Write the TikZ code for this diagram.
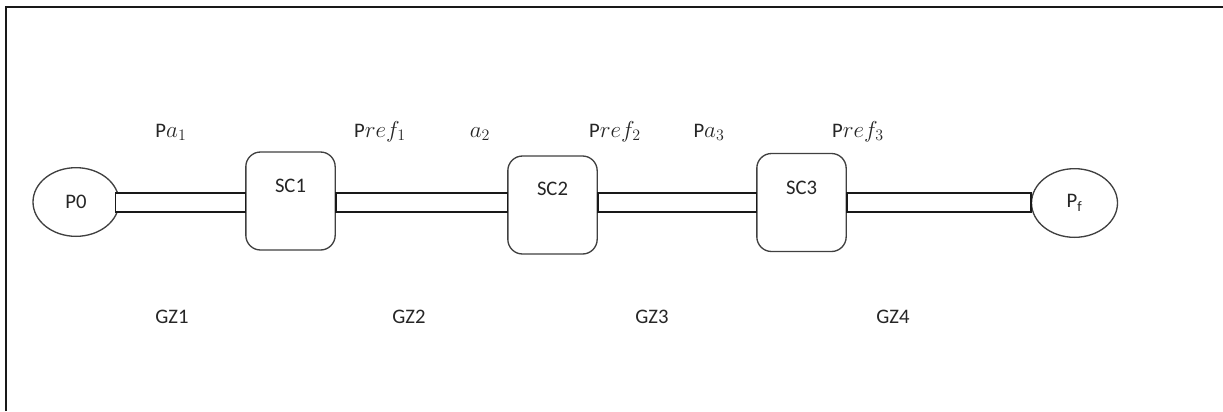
\documentclass[tikz,border=0pt]{standalone}
\usepackage{fontspec}
\setmainfont{Carlito}
\usetikzlibrary{shapes.geometric}
\newcommand{\mth}[1]{{\fontsize{17.5}{20}\selectfont$#1$}}
\begin{document}
\begin{tikzpicture}[x=0.75pt,y=-0.75pt,
  txt/.style={font=\fontsize{15.5}{18}\selectfont, text=black!85, inner sep=0pt},
  frame/.style={draw=black!90, line width=1.6pt},
  port/.style={ellipse, draw=black!75, line width=1pt, fill=white,
    minimum width=64.5pt, minimum height=51.5pt, inner sep=0pt, txt},
  station/.style={rectangle, rounded corners=11pt, draw=black!75, line width=1pt,
    fill=white, minimum width=67pt, minimum height=73.5pt, inner sep=0pt},
  tube/.style={draw=black!90, line width=1pt, fill=white},
  tag/.style={txt, anchor=base}]
\useasboundingbox (0,0) rectangle (1223,411);

% outer frame (top and left edges)
\draw[frame] (6,411) -- (6,7) -- (1223,7);

% end points and stations
\node[port] (p0) at (76,202) {P0};
\node[station] (sc1) at (290.5,201) {};
\node[station] (sc2) at (552.5,205) {};
\node[station] (sc3) at (801.5,202.5) {};
\node[port] (pf) at (1074.5,203) {P\textsubscript{f}};

% pipes between the stations
\draw[tube] ([xshift=-3pt]p0.east |- 0,193) rectangle (sc1.west |- 0,212);
\draw[tube] (sc1.east |- 0,193) rectangle (sc2.west |- 0,212);
\draw[tube] (sc2.east |- 0,193) rectangle (sc3.west |- 0,212);
\draw[tube] (sc3.east |- 0,193) rectangle (pf.west |- 0,212);

% station names
\node[tag] (n1) at (290.5,192) {SC1};
\node[tag] (n2) at (552.5,195) {SC2};
\node[tag] (n3) at (801.5,194) {SC3};

% pressure labels
\node[tag] (la1) at (171,137) {P\mth{a_1}};
\node[tag] (lr1) at (380,137) {P\mth{ref_1}};
\node[tag] (la2) at (480,137) {\mth{a_2}};
\node[tag] (lr2) at (615,137) {P\mth{ref_2}};
\node[tag] (la3) at (709,137) {P\mth{a_3}};
\node[tag] (lr3) at (858,137) {P\mth{ref_3}};

% zone labels
\node[tag] (gz1) at (172,323) {GZ1};
\node[tag] (gz2) at (409,323) {GZ2};
\node[tag] (gz3) at (652,323) {GZ3};
\node[tag] (gz4) at (893,323) {GZ4};
\end{tikzpicture}
\end{document}
